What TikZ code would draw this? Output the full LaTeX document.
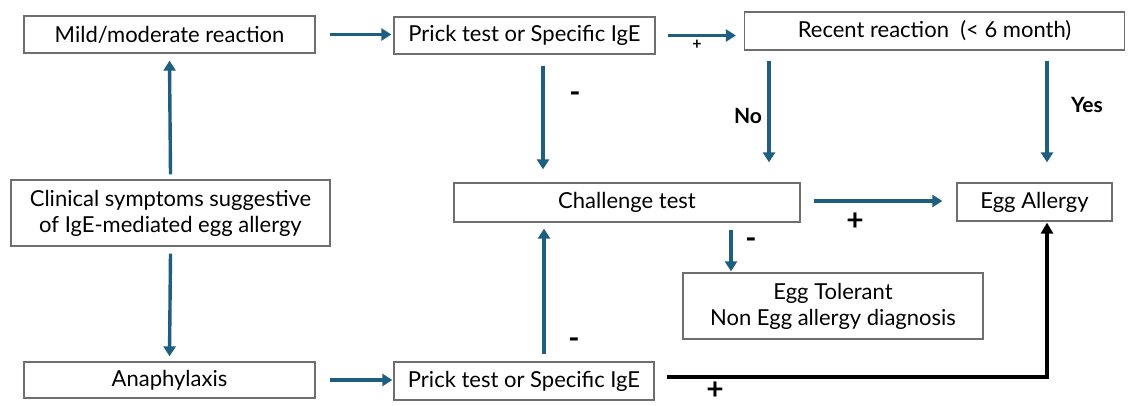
\documentclass[tikz,border=0pt]{standalone}
\usepackage{fontspec}
\setmainfont{Lato}
\usetikzlibrary{arrows.meta}
\definecolor{flowblue}{RGB}{30,94,128}
\definecolor{boxgray}{RGB}{110,110,110}
\tikzset{
  box/.style={draw=boxgray, line width=1.3pt, rectangle, inner sep=0pt, align=center, font=\fontsize{22}{26}\selectfont},
  arr/.style={draw=flowblue, line width=3.4pt, -{Triangle[length=10pt,width=12pt]}},
  blackarr/.style={draw=black, line width=3.6pt, -{Triangle[length=11pt,width=12pt]}},
  lbl/.style={font=\bfseries\fontsize{21}{22}\selectfont, inner sep=0pt},
  biglbl/.style={font=\bfseries\fontsize{30}{30}\selectfont, inner sep=0pt},
}
\begin{document}
\begin{tikzpicture}[x=1pt,y=-1pt]
\useasboundingbox[fill=white] (0,0) rectangle (1131,406);
\node[box, minimum width=291pt, minimum height=37pt] (mild) at (169.5,34.5) {Mild/moderate reaction};
\node[box, minimum width=261pt, minimum height=37pt] (prickA) at (524.5,35.5) {Prick test or Specific IgE};
\node[box, minimum width=380pt, minimum height=38pt] (recent) at (934.5,31) {Recent reaction\ \ (< 6 month)};
\node[box, minimum width=346pt, minimum height=39pt] (chal) at (627,202.5) {Challenge test};
\node[box, minimum width=155pt, minimum height=38pt] (egg) at (1034.5,202) {Egg Allergy};
\node[box, minimum width=319pt, minimum height=66pt] (clin) at (170.5,213) {Clinical symptoms suggestive\\of IgE-mediated egg allergy};
\node[box, minimum width=300pt, minimum height=66pt] (tol) at (833,306) {Egg Tolerant\\Non Egg allergy diagnosis};
\node[box, minimum width=291pt, minimum height=36pt] (ana) at (169.5,380) {Anaphylaxis};
\node[box, minimum width=260pt, minimum height=38pt] (prickB) at (524,381) {Prick test or Specific IgE};

% arrows
\draw[arr] ([xshift=14pt]mild.east) -- ([xshift=-2pt]mild.east -| prickA.west);
\draw[arr] ([xshift=12pt]prickA.east) -- ([xshift=-8pt]prickA.east -| recent.west);
\draw[arr] ([xshift=18.5pt,yshift=-11pt]prickA.south) -- ([xshift=18.5pt,yshift=13pt]prickA.south |- chal.north);
\draw[arr] ([yshift=-10pt]recent.south -| 769,0) -- ([yshift=20pt]chal.north -| 769,0);
\draw[arr] ([xshift=12.5pt,yshift=-10pt]recent.south -| egg.north) -- ([xshift=12.5pt,yshift=20pt]egg.north);
\draw[arr] ([xshift=13pt,yshift=1.5pt]chal.east) -- ([xshift=-14pt,yshift=1.5pt]chal.east -| egg.west);
\draw[arr] ([yshift=-7pt]chal.south -| 731,0) -- ([yshift=1pt]tol.north -| 731,0);
\draw[arr] ([yshift=5pt]clin.north) -- ([yshift=-7pt]mild.south);
\draw[arr] ([yshift=-7pt]clin.south) -- ([yshift=5pt]ana.north);
\draw[arr] ([xshift=14pt]ana.east) -- ([xshift=-1pt]ana.east -| prickB.west);
\draw[arr] ([xshift=20pt,yshift=7pt]prickB.north) -- ([xshift=20pt,yshift=-6pt]prickB.north |- chal.south);
\draw[blackarr] ([xshift=12pt,yshift=4pt]prickB.east) -| ([xshift=12.5pt,yshift=-1pt]egg.south);

% labels
\node[lbl, font=\bfseries\fontsize{16}{16}\selectfont] (p1) at (697,45) {+};
\node[biglbl] (m1) at (575,97) {-};
\node[lbl] (no) at (748,116) {No};
\node[lbl] (yes) at (1087,105) {Yes};
\node[biglbl] (p2) at (855,222) {+};
\node[biglbl] (m2) at (751,243) {-};
\node[biglbl] (m3) at (574,343) {-};
\node[biglbl] (p3) at (715,391) {+};
\end{tikzpicture}
\end{document}
